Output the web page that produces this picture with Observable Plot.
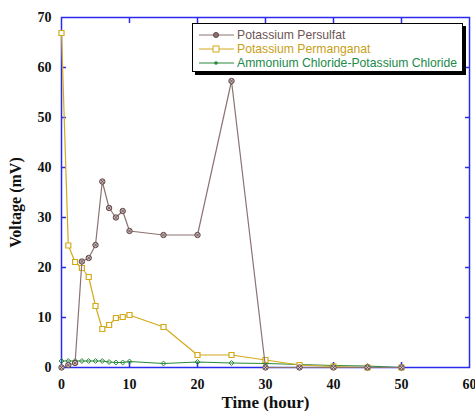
<!DOCTYPE html>
<html><head><meta charset="utf-8">
<script src="https://cdn.jsdelivr.net/npm/d3@7"></script>
<script src="https://cdn.jsdelivr.net/npm/@observablehq/plot@0.6"></script>
<style>
body{margin:0;background:#fff;}
#wrap{position:relative;width:475px;height:411px;}
#legend{position:absolute;left:192px;top:23px;width:271px;height:49px;background:#fff;border:1px solid #000;box-shadow:3px 3px 0 #000;font-family:"Liberation Sans",Arial,sans-serif;font-size:12.2px;line-height:14px;padding-top:4px;box-sizing:border-box;}
#legend .row{display:flex;align-items:center;height:14px;}
#legend svg{margin:0 3px 0 6px;}
</style></head>
<body><div id="wrap"></div>
<script>
const time = [0,1,2,3,4,5,6,7,8,9,10,15,20,25,30,35,40,45,50];
const persulfat = [0,0.5,0.9,21.2,21.9,24.5,37.2,31.9,30,31.3,27.3,26.5,26.5,57.3,0,0,0,0,0];
const permanganat = [66.9,24.4,21.1,19.9,18.1,12.3,7.7,8.5,9.9,10.1,10.5,8.1,2.5,2.5,1.5,0.5,0.2,0,0];
const ammonium = [1.3,1.3,1.3,1.3,1.3,1.3,1.3,1.1,1.0,1.0,1.2,0.8,1.1,0.9,0.8,0.6,0.4,0.3,0];
const seriesNames = ["Potassium Persulfat","Potassium Permanganat","Ammonium Chloride-Potassium Chloride"];
const lineColors = ["#8c7272","#d4aa1a","#2a8a3a"];
const textColors = ["#6e5656","#c9a018","#218a4a"];
const xTicks = [0,10,20,30,40,50,60];
const yTicks = [0,10,20,30,40,50,60,70];

const rows = [];
[persulfat, permanganat, ammonium].forEach((vals, s) => vals.forEach((v, i) => rows.push({series: seriesNames[s], t: time[i], v})));
const bySeries = n => rows.filter(d => d.series === n);
const blue = "#2b2bf0";
const font = "Liberation Serif, Times New Roman, serif";

const chart = Plot.plot({
  width: 475, height: 411,
  marginLeft: 61, marginRight: 6, marginTop: 17, marginBottom: 44,
  x: {domain: [0, 60], ticks: xTicks},
  y: {domain: [0, 70], ticks: yTicks},
  style: {fontFamily: font, fontSize: "14px", fontWeight: "bold", background: "#fff"},
  marks: [
    Plot.axisX(xTicks.slice(1,-1), {anchor: "bottom", tickSize: -5, tickFormat: () => "", stroke: blue, strokeWidth: 1.5, label: null}),
    Plot.axisX(xTicks.slice(1,-1), {anchor: "top", tickSize: -5, tickFormat: () => "", stroke: blue, strokeWidth: 1.5, label: null}),
    Plot.axisY(yTicks.slice(1,-1), {anchor: "left", tickSize: -5, tickFormat: () => "", stroke: blue, strokeWidth: 1.5, label: null}),
    Plot.axisY(yTicks.slice(1,-1), {anchor: "right", tickSize: -5, tickFormat: () => "", stroke: blue, strokeWidth: 1.5, label: null}),
    Plot.axisX(xTicks, {anchor: "bottom", tickSize: 0, tickPadding: 12, fill: "#111", fontSize: 14, label: "Time (hour)", labelAnchor: "center", labelOffset: 40, labelArrow: "none"}),
    Plot.axisY(yTicks, {anchor: "left", tickSize: 0, tickPadding: 10, fill: "#111", fontSize: 14, label: "Voltage (mV)", labelAnchor: "center", labelOffset: 52, labelArrow: "none"}),
    Plot.frame({stroke: blue, strokeWidth: 1.5}),
    Plot.line(bySeries(seriesNames[2]), {x: "t", y: "v", stroke: lineColors[2], strokeWidth: 1.2}),
    Plot.dot(bySeries(seriesNames[2]), {x: "t", y: "v", symbol: "diamond2", r: 2.2, stroke: lineColors[2], strokeWidth: 1}),
    Plot.line(bySeries(seriesNames[1]), {x: "t", y: "v", stroke: lineColors[1], strokeWidth: 1.2}),
    Plot.dot(bySeries(seriesNames[1]), {x: "t", y: "v", symbol: "square2", r: 3.2, stroke: lineColors[1], fill: "#fff", strokeWidth: 1.2}),
    Plot.line(bySeries(seriesNames[0]), {x: "t", y: "v", stroke: lineColors[0], strokeWidth: 1.2}),
    Plot.dot(bySeries(seriesNames[0]), {x: "t", y: "v", symbol: "circle", r: 2.7, stroke: "#5e4646", fill: "#cdbcbc", strokeWidth: 1}),
    Plot.dot(bySeries(seriesNames[0]), {x: "t", y: "v", symbol: "times", r: 1.8, stroke: "#5e4646", strokeWidth: 0.8})
  ]
});
const xl = chart.querySelector('[aria-label="x-axis label"] text');
if (xl) { xl.setAttribute("font-size", "17"); xl.style.fontSize = "17px"; }
const yl = chart.querySelector('[aria-label="y-axis label"] text');
if (yl) {
  yl.setAttribute("font-size", "16"); yl.style.fontSize = "16px";
  yl.setAttribute("transform", "translate(0,10) " + (yl.getAttribute("transform") || ""));
}
const wrap = document.getElementById("wrap");
wrap.appendChild(chart);

const legend = document.createElement("div");
legend.id = "legend";
const markerSvg = i => {
  const c = lineColors[i];
  let m = i === 0 ? `<circle cx="17" cy="5" r="2.5" fill="#8c7272" stroke="#5e4646"/>`
        : i === 1 ? `<rect x="14" y="2" width="6" height="6" fill="#fff" stroke="${c}"/>`
        : `<circle cx="17" cy="5" r="1.8" fill="${c}"/>`;
  return `<svg width="35" height="10"><line x1="0" y1="5" x2="35" y2="5" stroke="${c}" stroke-width="1.2"/>${m}</svg>`;
};
seriesNames.forEach((n, i) => {
  const r = document.createElement("div");
  r.className = "row";
  r.innerHTML = markerSvg(i) + `<span style="color:${textColors[i]}">${n}</span>`;
  legend.appendChild(r);
});
wrap.appendChild(legend);
</script></body></html>
